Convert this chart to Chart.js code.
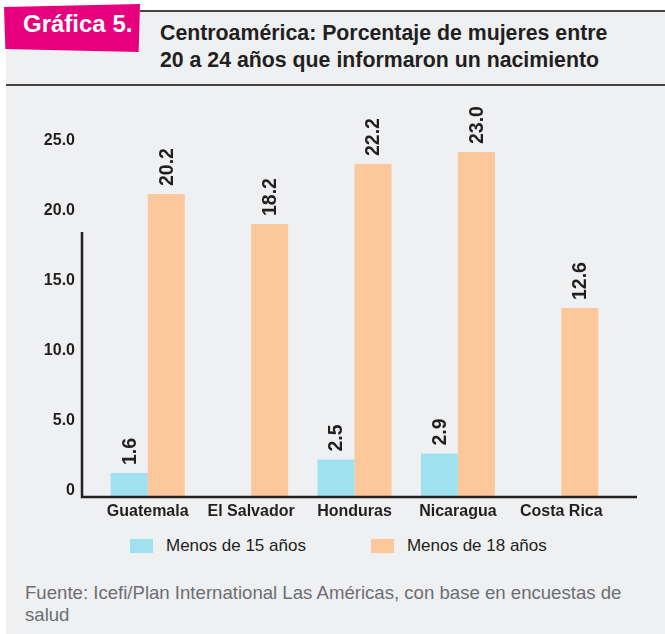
<!DOCTYPE html>
<html>
<head>
<meta charset="utf-8">
<script src="https://cdn.jsdelivr.net/npm/chart.js@4/dist/chart.umd.min.js"></script>
<style>
    body { margin: 0; width: 665px; height: 634px; overflow: hidden; background: #fff; font-family: "Liberation Sans", Arial, sans-serif; position: relative; }
    .panel { position: absolute; left: 6px; top: 10px; right: 0; bottom: 0; background: #eff0f2; }
    .line-top { position: absolute; left: 140px; top: 10px; width: 525px; height: 2px; background: #444; }
    .line-head { position: absolute; left: 6px; top: 84px; width: 659px; height: 2px; background: #444; }
    .tag { position: absolute; left: 4px; top: 4px; width: 136px; height: 48px; background: #e6007e;
           clip-path: polygon(0 6%, 100% 0, 99% 100%, 1% 94%); }
    .tag span { position: absolute; left: 19px; top: 6px; color: #fff; font-weight: bold; font-size: 24px; line-height: 28px; }
    .title { position: absolute; left: 160px; top: 20px; color: #231f20; font-weight: bold; font-size: 21.3px; line-height: 27px; }
    .chart-box { position: absolute; left: 0; top: 90px; width: 665px; height: 440px; }
    #legend { position: absolute; left: 130px; top: 536px; display: flex; align-items: center; color: #231f20; font-size: 17px; }
    #legend .item { display: flex; align-items: center; margin-right: 65px; }
    #legend .box { width: 23px; height: 14px; margin-right: 13px; }
    .source { position: absolute; left: 25px; top: 582px; color: #6d6e71; font-size: 18.6px; line-height: 22px; white-space: nowrap; }
</style>
</head>
<body>
<div class="panel"></div>
<div class="line-top"></div>
<div class="line-head"></div>
<div class="tag"><span>Gráfica 5.</span></div>
<div class="title">Centroamérica: Porcentaje de mujeres entre<br>20 a 24 años que informaron un nacimiento</div>
<div class="chart-box"><canvas id="chart" width="665" height="440"></canvas></div>
<div id="legend"></div>
<div class="source">Fuente: Icefi/Plan International Las Américas, con base en encuestas de<br>salud</div>

<script>
// Data
var countries = ['Guatemala', 'El Salvador', 'Honduras', 'Nicaragua', 'Costa Rica'];
var under15 = [1.6, null, 2.5, 2.9, null];
var under18 = [20.2, 18.2, 22.2, 23.0, 12.6];
var seriesNames = ['Menos de 15 años', 'Menos de 18 años'];
var tickStep = 5;
var tickMax = 25;
// the drawn vertical axis line only reaches up to this value
var axisTop = 18.5;

var DARK = '#231f20';
var FONT = '"Liberation Sans", Arial, sans-serif';

// Vertical value labels above each bar
var barLabels = {
    id: 'barLabels',
    afterDatasetsDraw(chart) {
        var ctx = chart.ctx;
        ctx.save();
        ctx.fillStyle = DARK;
        ctx.font = 'bold 19.5px ' + FONT;
        ctx.textAlign = 'left';
        ctx.textBaseline = 'middle';
        chart.data.datasets.forEach(function(ds, i) {
            chart.getDatasetMeta(i).data.forEach(function(bar, j) {
                var v = ds.data[j];
                if (v === null) return;
                ctx.save();
                ctx.translate(bar.x, bar.y - 8);
                ctx.rotate(-Math.PI / 2);
                ctx.fillText(v.toFixed(1), 0, 1);
                ctx.restore();
            });
        });
        ctx.restore();
    }
};

// The L shaped axis lines: short vertical line and a long base line
var axisLines = {
    id: 'axisLines',
    afterDraw(chart) {
        var ctx = chart.ctx;
        var area = chart.chartArea;
        var x0 = area.left - 14;
        var yTop = chart.scales.yt.getPixelForValue(axisTop);
        ctx.save();
        ctx.strokeStyle = DARK;
        ctx.lineWidth = 2.5;
        ctx.beginPath();
        ctx.moveTo(x0, yTop);
        ctx.lineTo(x0, area.bottom);
        ctx.lineTo(area.right + 24, area.bottom);
        ctx.stroke();
        ctx.restore();
    }
};

var chart = new Chart(document.getElementById('chart'), {
    type: 'bar',
    data: {
        labels: countries,
        datasets: [{
            label: seriesNames[0],
            data: under15,
            backgroundColor: '#a0e1f0',
            yAxisID: 'y'
        }, {
            label: seriesNames[1],
            data: under18,
            backgroundColor: '#fcc89b',
            yAxisID: 'y'
        }]
    },
    options: {
        responsive: false,
        animation: false,
        categoryPercentage: 0.716,
        barPercentage: 1,
        layout: { padding: { top: 32, right: 52, bottom: 3, left: 0 } },
        plugins: {
            legend: { display: false },
            tooltip: { enabled: false }
        },
        scales: {
            x: {
                grid: { display: false, drawTicks: false },
                border: { display: false },
                ticks: { color: DARK, padding: 5, font: { family: FONT, size: 16, weight: 'bold' } },
                afterFit: function(s) { s.height = 30; }
            },
            y: {
                display: false,
                min: 0,
                max: tickMax
            },
            yt: {
                position: 'left',
                min: -0.4286,
                max: 26.357,
                grid: { display: false, drawTicks: false },
                border: { display: false },
                ticks: {
                    stepSize: tickStep,
                    includeBounds: false,
                    color: DARK,
                    padding: 21,
                    font: { family: FONT, size: 16, weight: 'bold' },
                    callback: (v) => v === 0 ? '0' : v.toFixed(1)
                },
                afterFit: function(s) { s.width = 96; }
            }
        }
    },
    plugins: [barLabels, axisLines]
});

// Legend built from the chart datasets
var legend = document.getElementById('legend');
for (const ds of chart.data.datasets) {
    var item = document.createElement('div');
    item.className = 'item';
    item.innerHTML = '<div class="box" style="background:' + ds.backgroundColor + '"></div>' + ds.label;
    legend.appendChild(item);
}
</script>
</body>
</html>
